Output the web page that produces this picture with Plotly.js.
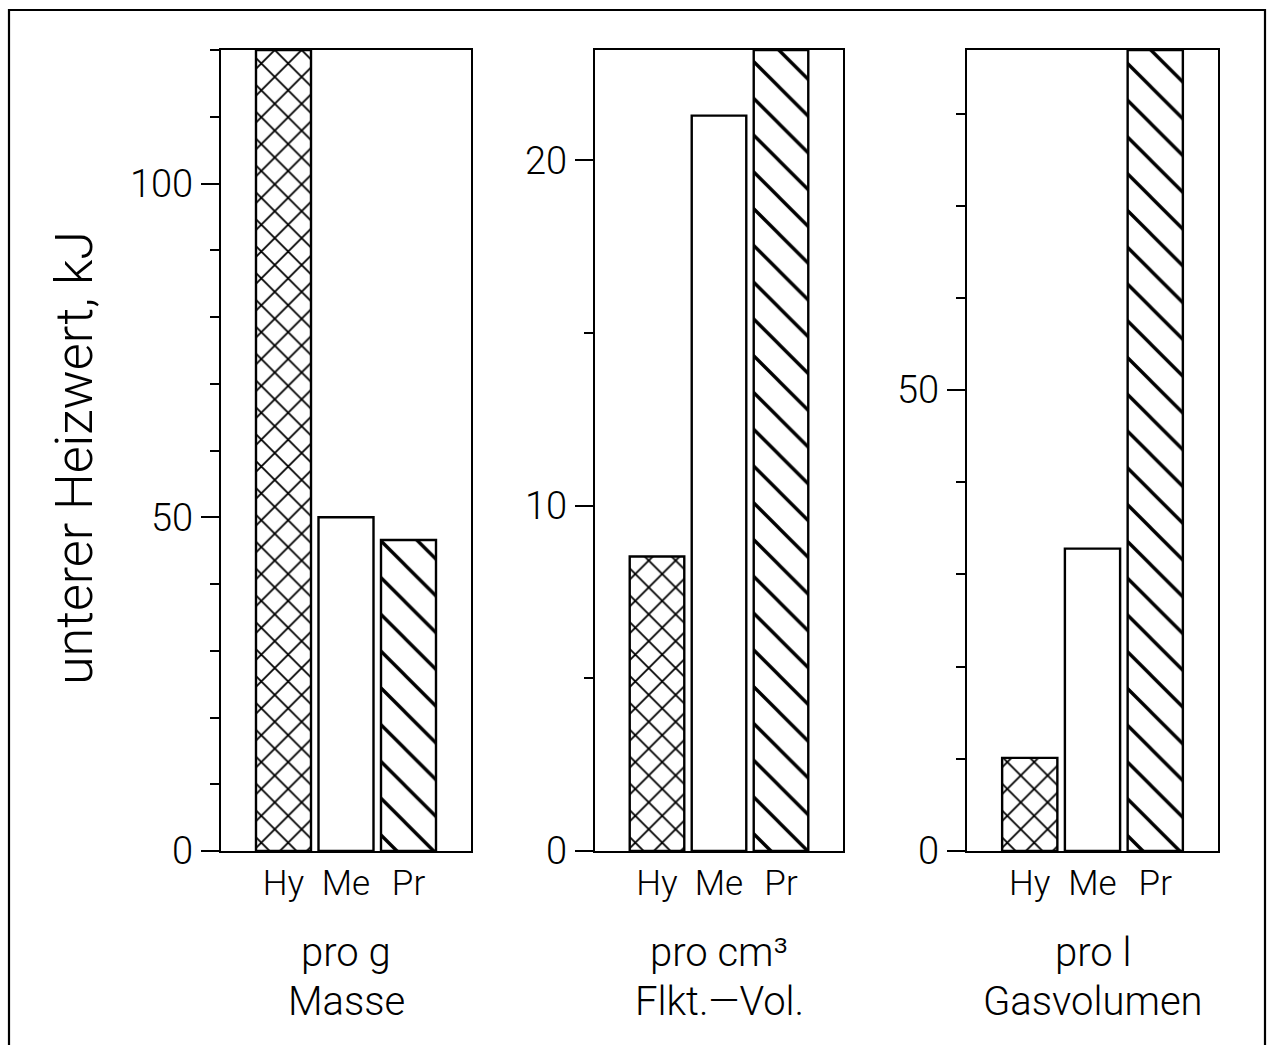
<!DOCTYPE html>
<html>
<head>
<meta charset="utf-8">
<script src="https://cdn.plot.ly/plotly-3.0.1.min.js"></script>
<style>html,body{margin:0;padding:0;background:#fff;}#chart{width:1268px;height:1045px;}</style>
</head>
<body>
<div id="chart"></div>
<script>
// Data
const categories = ["Hy", "Me", "Pr"];
const proMasse = [120, 50, 46.6];          // kJ pro g
const proFlktVol = [8.53, 21.3, 23.2];     // kJ pro cm³ Flüssigkeitsvolumen
const proGasVol = [10.1, 32.8, 86.9];      // kJ pro l Gasvolumen
const patterns = ["x", "", "\\"];
const panelTitles1 = ["pro g", "pro cm³", "pro l"];
const panelTitles2 = ["Masse", "Flkt.\u2014Vol.", "Gasvolumen"];
const yTitle = "unterer Heizwert, kJ";
const yRanges = [[0, 120], [0, 23.2], [0, 86.9]];
const yTickVals = [[0, 50, 100], [0, 10, 20], [0, 50]];
const yMinorStep = [10, 5, 10];

const W = 1268, H = 1045;
const FONT = "Roboto, 'DejaVu Sans', sans-serif";
const xDomainsPx = [[221, 471], [595, 843], [967, 1218]];
const yTopPx = 50, yBotPx = 851;
const yDomain = [(H - yBotPx) / H, (H - yTopPx) / H];

const series = [proMasse, proFlktVol, proGasVol];
const data = series.map((vals, i) => ({
  type: "bar",
  x: categories,
  y: vals,
  xaxis: i === 0 ? "x" : "x" + (i + 1),
  yaxis: i === 0 ? "y" : "y" + (i + 1),
  marker: {
    color: "#ffffff",
    line: {color: "#000", width: 2.4},
    pattern: {shape: patterns, fgcolor: "#000", bgcolor: "#fff", size: [19, 10, 26], solidity: [0.18, 0.1, 0.13], fillmode: "replace"}
  },
  cliponaxis: true,
  hoverinfo: "skip",
  showlegend: false
}));

const layout = {
  width: W, height: H,
  margin: {l: 0, r: 0, t: 0, b: 0},
  paper_bgcolor: "#fff", plot_bgcolor: "#fff",
  bargap: 0.12,
  font: {family: FONT, color: "#000", weight: 300},
  annotations: [],
  shapes: [{
    type: "rect", xref: "paper", yref: "paper",
    x0: 9 / W, x1: 1265 / W, y0: -0.05, y1: (H - 10) / H,
    line: {color: "#000", width: 2.2}, fillcolor: "rgba(0,0,0,0)", layer: "below"
  }]
};

for (let i = 0; i < 3; i++) {
  const sx = i === 0 ? "" : String(i + 1);
  layout["xaxis" + sx] = {
    domain: [xDomainsPx[i][0] / W, xDomainsPx[i][1] / W],
    anchor: "y" + sx,
    type: "category",
    range: [-1, 3],
    showline: true, mirror: true, linecolor: "#000", linewidth: 2.2,
    ticks: "", showgrid: false, zeroline: false,
    tickfont: {size: 35, family: FONT, weight: 300},
    ticklabelstandoff: 0,
    fixedrange: true
  };
  layout["yaxis" + sx] = {
    domain: yDomain,
    anchor: "x" + sx,
    range: yRanges[i],
    tickmode: "array",
    tickvals: yTickVals[i],
    ticktext: yTickVals[i].map(String),
    ticks: "outside", ticklen: 18, tickwidth: 2, tickcolor: "#000",
    minor: {dtick: yMinorStep[i], tick0: 0, ticks: "outside", ticklen: 9, tickwidth: 2, tickcolor: "#000", showgrid: false},
    showline: true, mirror: true, linecolor: "#000", linewidth: 2.2,
    showgrid: false, zeroline: false,
    tickfont: {size: 38, family: FONT, weight: 300},
    ticklabelstandoff: 0,
    fixedrange: true
  };
  const cx = (xDomainsPx[i][0] + xDomainsPx[i][1]) / 2 / W;
  layout.annotations.push({
    xref: "paper", yref: "paper", x: cx, y: (H - 952) / H,
    text: panelTitles1[i], showarrow: false, xanchor: "center", yanchor: "middle",
    font: {size: 40, family: FONT, weight: 300}
  });
  layout.annotations.push({
    xref: "paper", yref: "paper", x: cx, y: (H - 1001) / H,
    text: panelTitles2[i], showarrow: false, xanchor: "center", yanchor: "middle",
    font: {size: 40, family: FONT, weight: 300}
  });
}

layout.annotations.push({
  xref: "paper", yref: "paper", x: 74 / W, y: (H - 458) / H,
  text: yTitle, textangle: -90, showarrow: false, xanchor: "center", yanchor: "middle",
  font: {size: 52, family: FONT, weight: 300}
});

Plotly.newPlot("chart", data, layout, {displayModeBar: false, staticPlot: true});
</script>
</body>
</html>
